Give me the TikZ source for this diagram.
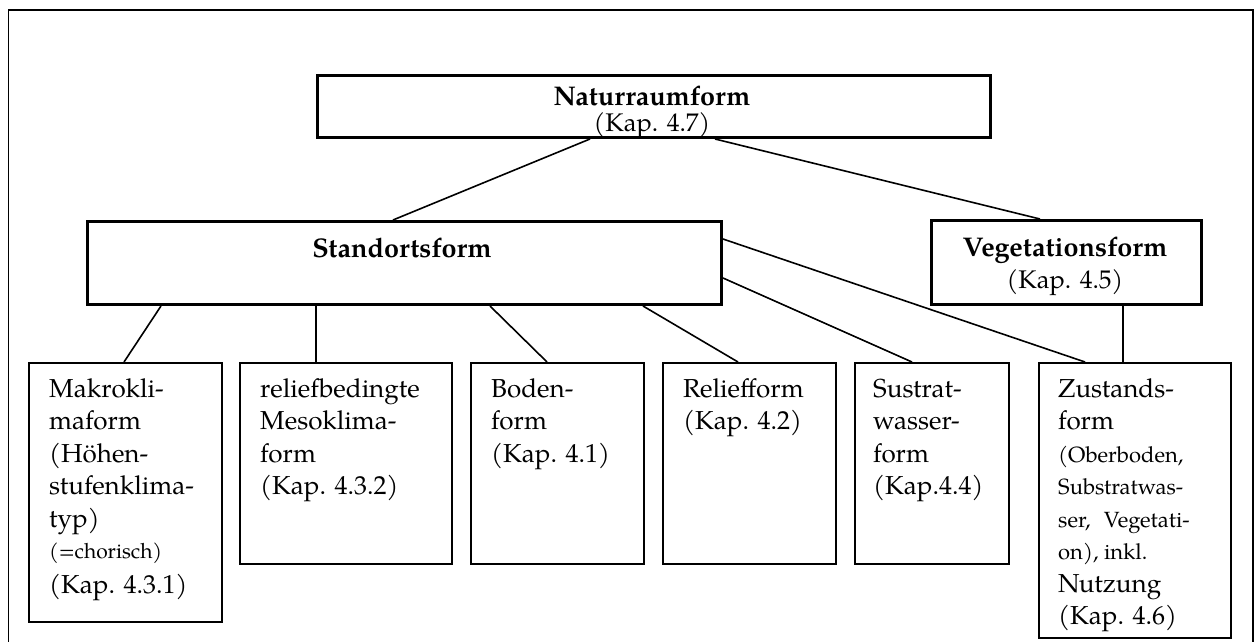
\documentclass[tikz,border=0pt]{standalone}
\usepackage{fontspec}
\setmainfont{TeX Gyre Pagella}
\newcommand{\bx}[1]{\begin{tabular}[t]{@{}l@{}}#1\end{tabular}}
\newcommand{\smf}{\fontsize{22}{32.5}\selectfont}
\tikzset{
  frame/.style={draw=black, line width=1.6pt},
  bigbox/.style={draw=black, line width=3pt, rectangle, inner sep=0pt, anchor=north west},
  smallbox/.style={draw=black, line width=2pt, rectangle, inner sep=0pt, anchor=north west},
  conn/.style={draw=black, line width=1.6pt},
  txt/.style={inner sep=0pt, anchor=base west, font=\fontsize{26}{32.5}\selectfont},
  ctxt/.style={inner sep=0pt, anchor=base, font=\fontsize{25.5}{32.5}\selectfont},
  btxt/.style={inner sep=0pt, anchor=base, font=\fontsize{27}{32.5}\selectfont\bfseries}
}
\begin{document}
\begin{tikzpicture}[x=1pt, y=-1pt]
\useasboundingbox (0,0) rectangle (1259,642);
% outer frame
\coordinate (fbl) at (8.5,660);
\coordinate (ftl) at (8.5,10);
\coordinate (ftr) at (1253,10);
\coordinate (fbr) at (1253,660);
\draw[frame] (fbl) -- (ftl) -- (ftr) -- (fbr);

% top level boxes
\node[bigbox, minimum width=673pt, minimum height=62pt] (nat) at (316,74) {};
\node[bigbox, minimum width=634pt, minimum height=83pt] (std) at (86,220) {};
\node[bigbox, minimum width=270pt, minimum height=84pt] (veg) at (930,219) {};

% bottom boxes
\node[smallbox, minimum width=193pt, minimum height=259pt] (mak) at (28,362) {};
\node[smallbox, minimum width=212pt, minimum height=201pt] (rel) at (239,362) {};
\node[smallbox, minimum width=173pt, minimum height=201pt] (bod) at (470,362) {};
\node[smallbox, minimum width=173pt, minimum height=201pt] (rlf) at (662,362) {};
\node[smallbox, minimum width=154pt, minimum height=201pt] (sus) at (854,362) {};
\node[smallbox, minimum width=192pt, minimum height=275pt] (zus) at (1038,362) {};

% texts
\node[btxt] (natT1) at (652,106) {Naturraumform};
\node[ctxt] (natT2) at (652,131) {(Kap. 4.7)};
\node[btxt] (stdT) at (402,257) {Standortsform};
\node[btxt] (vegT1) at (1065,256) {Vegetationsform};
\node[ctxt] (vegT2) at (1065,288) {(Kap. 4.5)};

\node[txt] (makT) at (49,397) {\bx{Makrokli-\\maform\\(Höhen-\\stufenklima-\\typ)\\[-1.5pt]{\fontsize{21}{32.5}\selectfont(=chorisch)}\\[2.5pt](Kap. 4.3.1)}};
\node[txt] (relT) at (260,397) {\bx{reliefbedingte\\Mesoklima-\\form\\(Kap. 4.3.2)}};
\node[txt] (bodT) at (491,397) {\bx{Boden-\\form\\(Kap. 4.1)}};
\node[txt] (rlfT) at (683,397) {\bx{Reliefform\\(Kap. 4.2)}};
\node[txt] (susT) at (873,397) {\bx{Sustrat-\\wasser-\\form\\(Kap.4.4)}};
\node[txt] (zusT) at (1058,397) {\bx{Zustands-\\form\\{\smf (Oberboden,}\\{\smf Substratwas-}\\{\smf\makebox[158pt][l]{ser,\hspace{0.6em}Vegetati-}}\\{\smf on), inkl.}\\Nutzung\\(Kap. 4.6)}};

% connectors
\draw[conn] ([xshift=274pt]nat.south west) -- ([xshift=307pt]std.north west);
\draw[conn] ([xshift=399pt]nat.south west) -- ([xshift=110pt]veg.north west);
\draw[conn] ([xshift=75pt]std.south west) -- ([xshift=96pt]mak.north west);
\draw[conn] ([xshift=230pt]std.south west) -- ([xshift=77pt]rel.north west);
\draw[conn] ([xshift=404pt]std.south west) -- ([xshift=77pt]bod.north west);
\draw[conn] ([xshift=557pt]std.south west) -- ([xshift=76pt]rlf.north west);
\draw[conn] ([yshift=-58pt]std.north east) -- ([xshift=58pt]sus.north west);
\draw[conn] ([yshift=-19pt]std.north east) -- ([xshift=47pt]zus.north west);
\draw[conn] ([xshift=193pt]veg.south west) -- ([xshift=85pt]zus.north west);
\end{tikzpicture}
\end{document}
